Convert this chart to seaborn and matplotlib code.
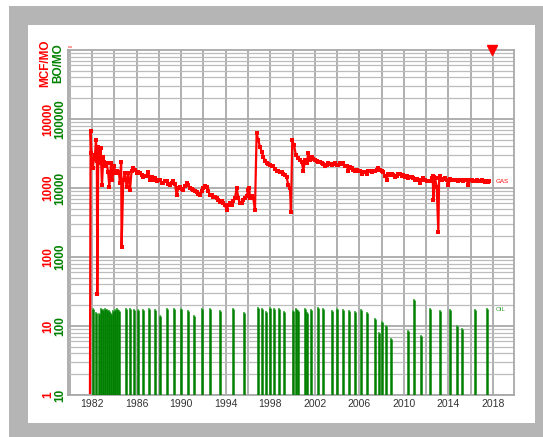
import matplotlib
matplotlib.use("Agg")
import matplotlib.pyplot as plt
import seaborn as sns
from matplotlib.patches import Rectangle
from matplotlib.ticker import FixedLocator, LogLocator, MultipleLocator, NullFormatter, NullLocator

# --- data ---
gas_year = [1981.82, 1981.88, 1981.95, 1982.06, 1982.18, 1982.27, 1982.36, 1982.44, 1982.48, 1982.57,
            1982.66, 1982.72, 1982.78, 1982.90, 1983.02, 1983.10, 1983.17, 1983.32, 1983.45, 1983.56,
            1983.71, 1983.83, 1983.98, 1984.13, 1984.27, 1984.42, 1984.51, 1984.62, 1984.66, 1984.81,
            1984.96, 1985.11, 1985.26, 1985.41, 1985.56, 1985.71, 1985.86, 1986.01, 1986.16, 1986.31,
            1986.46, 1986.61, 1986.76, 1986.91, 1987.06, 1987.21, 1987.35, 1987.50, 1987.65, 1987.80,
            1987.95, 1988.10, 1988.25, 1988.40, 1988.55, 1988.70, 1988.85, 1989.00, 1989.15, 1989.30,
            1989.45, 1989.60, 1989.75, 1989.90, 1990.05, 1990.20, 1990.35, 1990.50, 1990.65, 1990.80,
            1990.95, 1991.10, 1991.25, 1991.40, 1991.55, 1991.70, 1991.85, 1992.00, 1992.15, 1992.30,
            1992.45, 1992.59, 1992.75, 1992.89, 1993.05, 1993.19, 1993.35, 1993.49, 1993.65, 1993.79,
            1993.95, 1994.09, 1994.24, 1994.40, 1994.54, 1994.70, 1994.84, 1994.99, 1995.14, 1995.29,
            1995.43, 1995.58, 1995.73, 1995.88, 1996.03, 1996.12, 1996.18, 1996.33, 1996.48, 1996.63,
            1996.78, 1996.93, 1997.08, 1997.23, 1997.38, 1997.53, 1997.68, 1997.83, 1997.98, 1998.13,
            1998.28, 1998.43, 1998.58, 1998.73, 1998.88, 1999.03, 1999.18, 1999.33, 1999.47, 1999.62,
            1999.77, 1999.86, 1999.98, 2000.13, 2000.31, 2000.52, 2000.67, 2000.82, 2000.97, 2001.12,
            2001.27, 2001.42, 2001.57, 2001.72, 2001.87, 2002.02, 2002.17, 2002.32, 2002.47, 2002.62,
            2002.77, 2002.92, 2003.06, 2003.21, 2003.36, 2003.51, 2003.66, 2003.81, 2003.96, 2004.11,
            2004.26, 2004.41, 2004.56, 2004.71, 2004.86, 2005.01, 2005.16, 2005.31, 2005.46, 2005.61,
            2005.76, 2005.91, 2006.06, 2006.21, 2006.36, 2006.51, 2006.66, 2006.81, 2006.95, 2007.10,
            2007.25, 2007.40, 2007.55, 2007.70, 2007.85, 2008.00, 2008.15, 2008.30, 2008.45, 2008.60,
            2008.75, 2008.90, 2009.05, 2009.20, 2009.35, 2009.50, 2009.65, 2009.80, 2009.95, 2010.10,
            2010.25, 2010.40, 2010.54, 2010.69, 2010.84, 2010.99, 2011.14, 2011.29, 2011.44, 2011.59,
            2011.74, 2011.89, 2012.04, 2012.19, 2012.34, 2012.49, 2012.58, 2012.64, 2012.72, 2012.79,
            2012.94, 2013.09, 2013.16, 2013.24, 2013.39, 2013.54, 2013.69, 2013.84, 2013.99, 2014.14,
            2014.29, 2014.43, 2014.58, 2014.73, 2014.88, 2015.03, 2015.18, 2015.33, 2015.48, 2015.63,
            2015.78, 2015.93, 2016.08, 2016.23, 2016.38, 2016.53, 2016.68, 2016.83, 2016.98, 2017.13,
            2017.28, 2017.43, 2017.54, 2017.64]
gas_mcf = [0.8, 6600, 3200, 1950, 2600, 2980, 4900, 2500, 29, 3950,
           2900, 2300, 3800, 1100, 2860, 2400, 2050, 2280, 1700, 1050,
           2300, 1320, 2050, 1650, 1790, 1700, 1170, 2420, 141, 1320,
           1650, 1050, 1650, 930, 1790, 1950, 1800, 1650, 1700, 1650,
           1550, 1450, 1500, 1510, 1700, 1320, 1450, 1320, 1380, 1250,
           1300, 1320, 1200, 1180, 1280, 1250, 1150, 1100, 1200, 1250,
           1150, 790, 1000, 1050, 980, 930, 1080, 1180, 1120, 1000,
           960, 930, 900, 880, 820, 790, 900, 1000, 1080, 1050,
           900, 790, 780, 750, 740, 715, 660, 630, 650, 600,
           560, 477, 565, 600, 565, 640, 715, 1000, 710, 600,
           600, 670, 710, 760, 930, 1000, 710, 760, 710, 477,
           6200, 4950, 3950, 3380, 2860, 2500, 2280, 2200, 2120, 2080,
           2050, 1900, 1790, 1750, 1700, 1680, 1620, 1550, 1450, 1100,
           1000, 455, 4950, 4180, 2980, 2700, 2550, 2420, 1790, 2510,
           2280, 3200, 2510, 2860, 2600, 2510, 2450, 2420, 2350, 2280,
           2200, 2050, 2150, 2280, 2200, 2120, 2200, 2280, 2150, 2120,
           2280, 2200, 2280, 2050, 2100, 1790, 2000, 1920, 1850, 1790,
           1850, 1790, 1750, 1620, 1700, 1700, 1600, 1790, 1750, 1700,
           1790, 1750, 1800, 1920, 1850, 1790, 1700, 1510, 1320, 1620,
           1550, 1620, 1550, 1450, 1500, 1620, 1580, 1510, 1550, 1450,
           1480, 1380, 1420, 1450, 1400, 1320, 1350, 1300, 1180, 1300,
           1380, 1320, 1280, 1250, 1250, 1400, 1510, 670, 1450, 1400,
           1050, 230, 1400, 1510, 1320, 1350, 1380, 1300, 1100, 1350,
           1320, 1300, 1320, 1300, 1250, 1300, 1320, 1280, 1300, 1320,
           1100, 1300, 1320, 1280, 1250, 1300, 1270, 1280, 1300, 1260,
           1220, 1250, 1230, 1250]

oil_year = [1982.12, 1982.33, 1982.66, 1982.84, 1983.00, 1983.20, 1983.37, 1983.53, 1983.68, 1983.86,
            1984.06, 1984.27, 1984.45, 1985.02, 1985.41, 1985.77, 1986.13, 1986.60, 1987.09, 1987.68,
            1988.10, 1988.70, 1989.36, 1990.02, 1990.62, 1991.13, 1991.87, 1992.56, 1993.49, 1994.63,
            1995.64, 1996.90, 1997.29, 1997.65, 1998.02, 1998.34, 1998.80, 1999.24, 2000.02, 2000.29,
            2000.53, 2001.09, 2001.27, 2001.69, 2002.29, 2002.77, 2003.52, 2004.02, 2004.53, 2005.10,
            2005.61, 2006.12, 2006.69, 2007.38, 2007.74, 2008.06, 2008.39, 2008.81, 2010.37, 2010.91,
            2011.51, 2012.34, 2013.24, 2014.16, 2014.76, 2015.24, 2016.35, 2017.48]
oil_bo = [176, 153, 148, 175, 171, 176, 171, 167, 149, 167,
          171, 176, 167, 176, 175, 171, 171, 171, 176, 171,
          140, 176, 175, 176, 165, 140, 175, 175, 167, 176,
          156, 184, 176, 161, 184, 176, 176, 161, 167, 176,
          167, 176, 156, 171, 180, 175, 167, 175, 171, 167,
          161, 171, 153, 125, 78, 114, 101, 64, 85, 238,
          72, 176, 167, 171, 101, 91, 171, 175]

year_labels = [1982, 1986, 1990, 1994, 1998, 2002, 2006, 2010, 2014, 2018]
gas_ticks = [1, 10, 100, 1000, 10000]
oil_ticks = [10, 100, 1000, 10000, 100000]

sns.set_theme(style="white")
plt.rcParams["font.family"] = ["Liberation Sans", "DejaVu Sans"]

W, H = 543, 437
fig = plt.figure(figsize=(W / 100, H / 100), dpi=100, facecolor="white")
# gray frame with white panel (behind the axes)
fig.patches.append(Rectangle((9 / W, 0), 1 - 9 / W, (H - 6) / H, transform=fig.transFigure,
                             facecolor="#b5b5b5", edgecolor="none", zorder=-2))
fig.patches.append(Rectangle((28 / W, 14 / H), 507 / W, 398 / H, transform=fig.transFigure,
                             facecolor="white", edgecolor="none", zorder=-1))

ax = fig.add_axes([68 / W, 42 / H, 446 / W, 345 / H])
ax.set_facecolor("white")
ax.set_yscale("log")
ax.set_ylim(1, 1e5)
ax.set_xlim(1979.85, 2019.88)

grid_col = "#a9a9a9"
ax.yaxis.set_major_locator(FixedLocator(gas_ticks))
ax.yaxis.set_minor_locator(LogLocator(base=10, subs=range(2, 10)))
ax.yaxis.set_minor_formatter(NullFormatter())
ax.xaxis.set_major_locator(FixedLocator(year_labels))
ax.xaxis.set_minor_locator(MultipleLocator(2))
ax.grid(which="major", axis="both", color=grid_col, lw=1.3)
ax.grid(which="minor", axis="y", color="#bcbcbc", lw=0.9)
ax.grid(which="minor", axis="x", color=grid_col, lw=1.3)
ax.set_axisbelow(True)
for sp in ax.spines.values():
    sp.set_visible(True)
    sp.set_color(grid_col)
    sp.set_linewidth(1.3)

ax.set_yticklabels([str(v) for v in gas_ticks], rotation=90, va="center",
                   color="red", fontweight="bold", fontsize=8.5)
ax.tick_params(axis="y", which="both", length=0, pad=10)
ax.tick_params(axis="x", which="both", length=0, pad=3, labelsize=7.5, labelcolor="#333333")

# gas on the primary axis
sns.lineplot(x=gas_year, y=gas_mcf, ax=ax, color="red", lw=1.6, marker="s",
             markersize=2.4, markeredgewidth=0, estimator=None, sort=False)
ax.annotate("GAS", xy=(gas_year[-1], gas_mcf[-1]), xytext=(5, 0), textcoords="offset points",
            fontsize=4.5, color="red", va="center")

# oil on a twin log axis whose labels sit on the left as well
ax2 = ax.twinx()
ax2.set_yscale("log")
ax2.set_ylim(10, 1e6)
ax2.yaxis.set_major_locator(FixedLocator(oil_ticks))
ax2.yaxis.set_minor_locator(NullLocator())
ax2.set_yticklabels([str(v) for v in oil_ticks], rotation=90, va="center",
                    color="green", fontweight="bold", fontsize=8.5)
ax2.tick_params(axis="y", which="both", length=0, pad=1.5, left=True, right=False,
                labelleft=True, labelright=False)
ax2.grid(False)
for sp in ax2.spines.values():
    sp.set_visible(False)

ax2.vlines(oil_year, 10, oil_bo, colors="#008000", lw=1.8)
sns.scatterplot(x=oil_year, y=oil_bo, ax=ax2, color="#5cb85c", marker="s", s=4, linewidth=0)
ax2.annotate("OIL", xy=(oil_year[-1], oil_bo[-1]), xytext=(6, 0), textcoords="offset points",
             fontsize=4.5, color="#33a033", va="center")
ax2.set_xlim(1979.85, 2019.88)

# marker at the top and the little pink tag at top-left
ax.plot([2017.9], [1.0], transform=ax.get_xaxis_transform(), marker="v", color="red",
        markersize=6.5, clip_on=False, zorder=10)
ax.add_patch(Rectangle((0.0, 1.007), 4 / 446, 2 / 345, transform=ax.transAxes,
                       facecolor="#ff9c9c", edgecolor="none", clip_on=False))

fig.text(45 / W, 1 - 63.5 / H, "MCF/MO", rotation=90, color="red", fontweight="bold",
         fontsize=8.5, ha="center", va="center")
fig.text(58 / W, 1 - 63.5 / H, "BO/MO", rotation=90, color="green", fontweight="bold",
         fontsize=8.5, ha="center", va="center")

fig.savefig("out.png", dpi=100)
